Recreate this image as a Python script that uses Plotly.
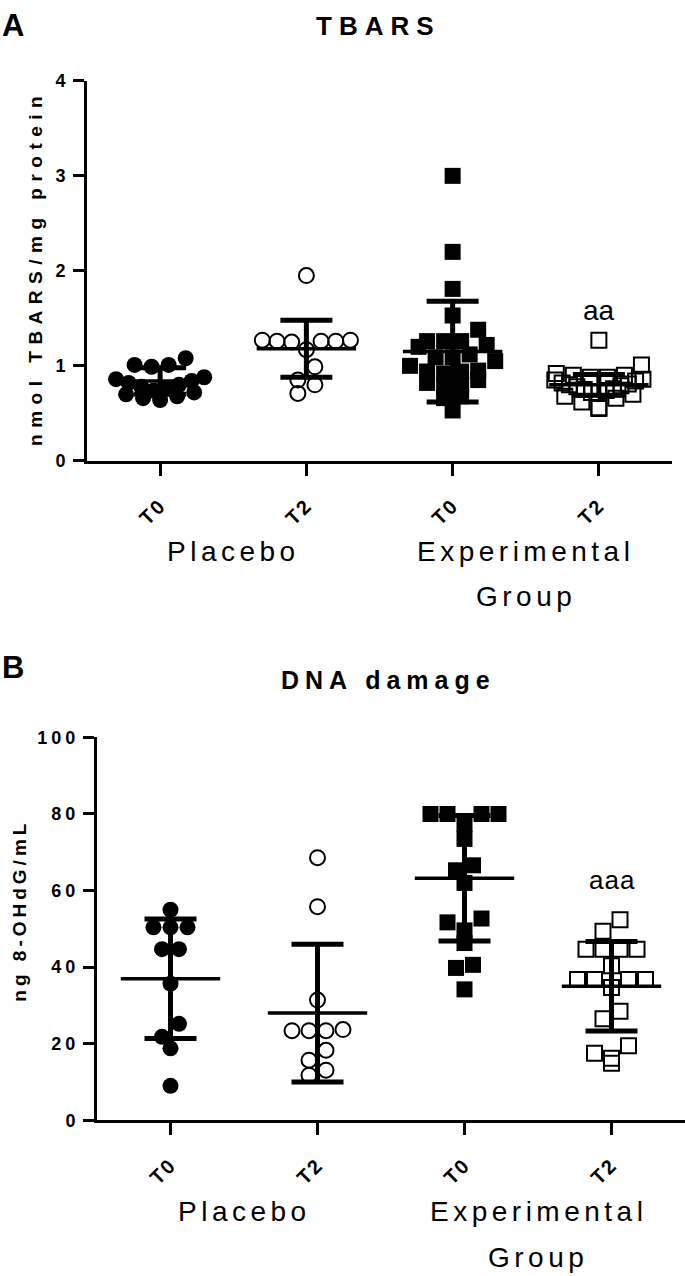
import plotly.graph_objects as go

FONT = "Liberation Sans, Arial, Helvetica, sans-serif"
W, H = 685, 1276

time_labels = ["T0", "T2", "T0", "T2"]
positions = [1, 2, 3, 4]

# panel A - TBARS (nmol TBARS/mg protein)
tbars_placebo_t0 = [1.08, 1.01, 0.99, 1.01, 0.86, 0.84, 0.82, 0.80, 0.78,
                    0.76, 0.74, 0.72, 0.70, 0.68, 0.66, 0.64, 0.88]
tbars_placebo_t2 = [1.95, 1.27, 1.26, 1.26, 1.25, 1.26, 1.27, 1.17, 0.99,
                    0.85, 0.80, 0.71]
tbars_exp_t0 = [3.00, 2.20, 1.81, 1.53, 1.38, 1.26, 1.26, 1.26, 1.22, 1.20,
                1.12, 1.09, 1.09, 1.05, 1.00, 0.95, 0.94, 0.94, 0.92, 0.85,
                0.82, 0.80, 0.78, 0.68, 0.66, 0.53]
tbars_exp_t2 = [1.27, 1.01, 0.92, 0.90, 0.90, 0.88, 0.88, 0.86, 0.85, 0.84,
                0.82, 0.81, 0.80, 0.79, 0.78, 0.76, 0.75, 0.74, 0.72, 0.72,
                0.70, 0.68, 0.66, 0.62, 0.56, 0.55]
tbars_mean = [0.84, 1.18, 1.15, 0.80]
tbars_sd = [0.14, 0.30, 0.53, 0.11]

# panel B - DNA damage (ng 8-OHdG/mL)
dna_placebo_t0 = [55.0, 50.4, 50.4, 50.4, 44.7, 44.7, 35.7, 25.2, 21.8,
                  18.8, 9.0]
dna_placebo_t2 = [68.6, 55.8, 31.4, 23.4, 23.4, 23.4, 23.7, 18.3, 15.7,
                  13.1, 11.8]
dna_exp_t0 = [80.0, 80.0, 80.0, 80.0, 77.4, 73.5, 66.6, 65.3, 62.0, 52.7,
              51.7, 49.6, 46.3, 40.6, 39.8, 34.2]
dna_exp_t2 = [52.4, 49.4, 44.7, 44.7, 44.7, 44.7, 40.4, 36.8, 36.8, 36.8,
              36.8, 34.7, 28.5, 26.5, 19.5, 17.5, 16.2, 14.9]
dna_mean = [37.0, 28.0, 63.2, 35.0]
dna_sd = [15.6, 18.0, 16.4, 11.7]

symbols = ["circle", "circle-open", "square", "square-open"]


def spaced(text, px):
    return f"<span style='letter-spacing:{px}px'>{text}</span>"


def swarm(values, x_scale, y_scale, size=16, max_off=44):
    """Prism-like scatter: near-equal values share a row, rows centred on the column"""
    order = sorted(range(len(values)), key=lambda i: -values[i])
    rows, cur, top = [], [], None
    for i in order:
        y = values[i] * y_scale
        if cur and top - y > 0.85 * size:
            rows.append(cur)
            cur = []
        if not cur:
            top = y
        cur.append(i)
    rows.append(cur)
    offsets = [0.0] * len(values)
    for row in rows:
        n = len(row)
        step = size + 1 if n == 1 else min(size + 1, 2 * max_off / (n - 1))
        slots = sorted([(j - (n - 1) / 2) * step for j in range(n)],
                       key=lambda o: (abs(o), o))
        for i, o in zip(sorted(row, key=lambda i: values[i]), slots):
            offsets[i] = o / x_scale
    return offsets


fig = go.Figure()


def add_panel(series, means, sds, xa, ya, x_scale, y_scale):
    for pos, vals, sym in zip(positions, series, symbols):
        offs = swarm(vals, x_scale, y_scale)
        is_open = sym.endswith("open")
        fig.add_trace(go.Scatter(
            x=[pos + o for o in offs], y=vals,
            mode="markers", xaxis=xa, yaxis=ya,
            marker=dict(symbol=sym, size=15 if is_open else 16, color="black",
                        line=dict(width=2 if is_open else 0, color="black")),
            cliponaxis=False, showlegend=False, hoverinfo="y"
        ))
    # mean line with SD whiskers
    fig.add_trace(go.Scatter(
        x=positions, y=means, mode="markers", xaxis=xa, yaxis=ya,
        marker=dict(symbol="line-ew", size=71, color="black",
                    line=dict(width=3.5, color="black")),
        error_y=dict(type="data", array=sds, thickness=5, width=26, color="black"),
        cliponaxis=False, showlegend=False, hoverinfo="y"
    ))


add_panel([tbars_placebo_t0, tbars_placebo_t2, tbars_exp_t0, tbars_exp_t2],
          tbars_mean, tbars_sd, "x", "y", 146.0, 96.5)
add_panel([dna_placebo_t0, dna_placebo_t2, dna_exp_t0, dna_exp_t2],
          dna_mean, dna_sd, "x2", "y2", 147.0, 3.89)

axis_common = dict(showline=True, linewidth=3, linecolor="black", ticks="outside",
                   tickwidth=3, tickcolor="black", showgrid=False, zeroline=False,
                   fixedrange=True)
xtick_font = dict(family=FONT, size=20, color="black", weight="bold")
ytick_font = dict(family=FONT, size=18, color="black", weight="bold")

fig.update_layout(
    width=W, height=H,
    margin=dict(l=0, r=0, t=0, b=0),
    paper_bgcolor="white", plot_bgcolor="white",
    xaxis=dict(domain=[87 / W, 672 / W], range=[0.5, 4.5], anchor="y",
               tickvals=positions, ticktext=[spaced(t, 2) for t in time_labels],
               tickangle=-45, ticklen=12, tickfont=xtick_font,
               ticklabelstandoff=10, **axis_common),
    yaxis=dict(domain=[1 - 458 / H, 1 - 72 / H], range=[0, 4], anchor="x",
               tickvals=[0, 1, 2, 3, 4],
               ticktext=[spaced(str(v), 4) for v in [0, 1, 2, 3, 4]],
               ticklen=11, tickfont=ytick_font, **axis_common),
    xaxis2=dict(domain=[97 / W, 1.0], range=[0.5, 4.5], anchor="y2",
                tickvals=positions, ticktext=[spaced(t, 2) for t in time_labels],
                tickangle=-45, ticklen=12, tickfont=xtick_font,
                ticklabelstandoff=10, **axis_common),
    yaxis2=dict(domain=[1 - 1128 / H, 1 - 739 / H], range=[0, 100], anchor="x2",
                tickvals=[0, 20, 40, 60, 80, 100],
                ticktext=[spaced(str(v), 4) for v in [0, 20, 40, 60, 80, 100]],
                ticklen=11, tickfont=ytick_font, **axis_common),
)


def note(text, x, y, size, bold=False, xref="paper", yref="paper",
         xanchor="center", yanchor="top", angle=0, ls=0):
    fig.add_annotation(
        text=spaced(text, ls) if ls else text, x=x, y=y, xref=xref, yref=yref,
        xanchor=xanchor, yanchor=yanchor, textangle=angle, showarrow=False,
        font=dict(family=FONT, size=size, color="black",
                  weight="bold" if bold else "normal"))


# panel letters and titles
note("A", 0, 1 + 4 / H, 31, bold=True, xanchor="left")
note("B", 0, 1 - 648 / H, 31, bold=True, xanchor="left")
note("TBARS", 378 / W, 1 + 1 / H, 26, bold=True, ls=7)
note("DNA damage", 388 / W, 1 - 664 / H, 25, bold=True, ls=6)

# y-axis titles
note("nmol TBARS/mg protein", 36 / W, 1 - 262 / H, 19, bold=True,
     xanchor="center", yanchor="middle", angle=-90, ls=6.5)
note("ng 8-OHdG/mL", 20 / W, 1 - 915 / H, 19, bold=True,
     xanchor="center", yanchor="middle", angle=-90, ls=4)

# group labels under the x axes
for xr, top, top2 in [("x", 532, 578), ("x2", 1203, 1250)]:
    note("Placebo", 1.5, 1 - top / H, 28, xref=xr, ls=4.5)
    note("Experimental", 3.5, 1 - top / H, 28, xref=xr, ls=4.5)
    note("Group", 3.5, 1 - top2 / H, 28, xref=xr, ls=4.5)

# significance marks
note("aa", 4, 1.58, 28, xref="x", yref="y", yanchor="middle")
note("aaa", 4, 62.7, 26, xref="x2", yref="y2", yanchor="middle", ls=1)

fig.write_html("out.html", config={"displayModeBar": False},
               post_script="document.body.style.margin='0px';")
